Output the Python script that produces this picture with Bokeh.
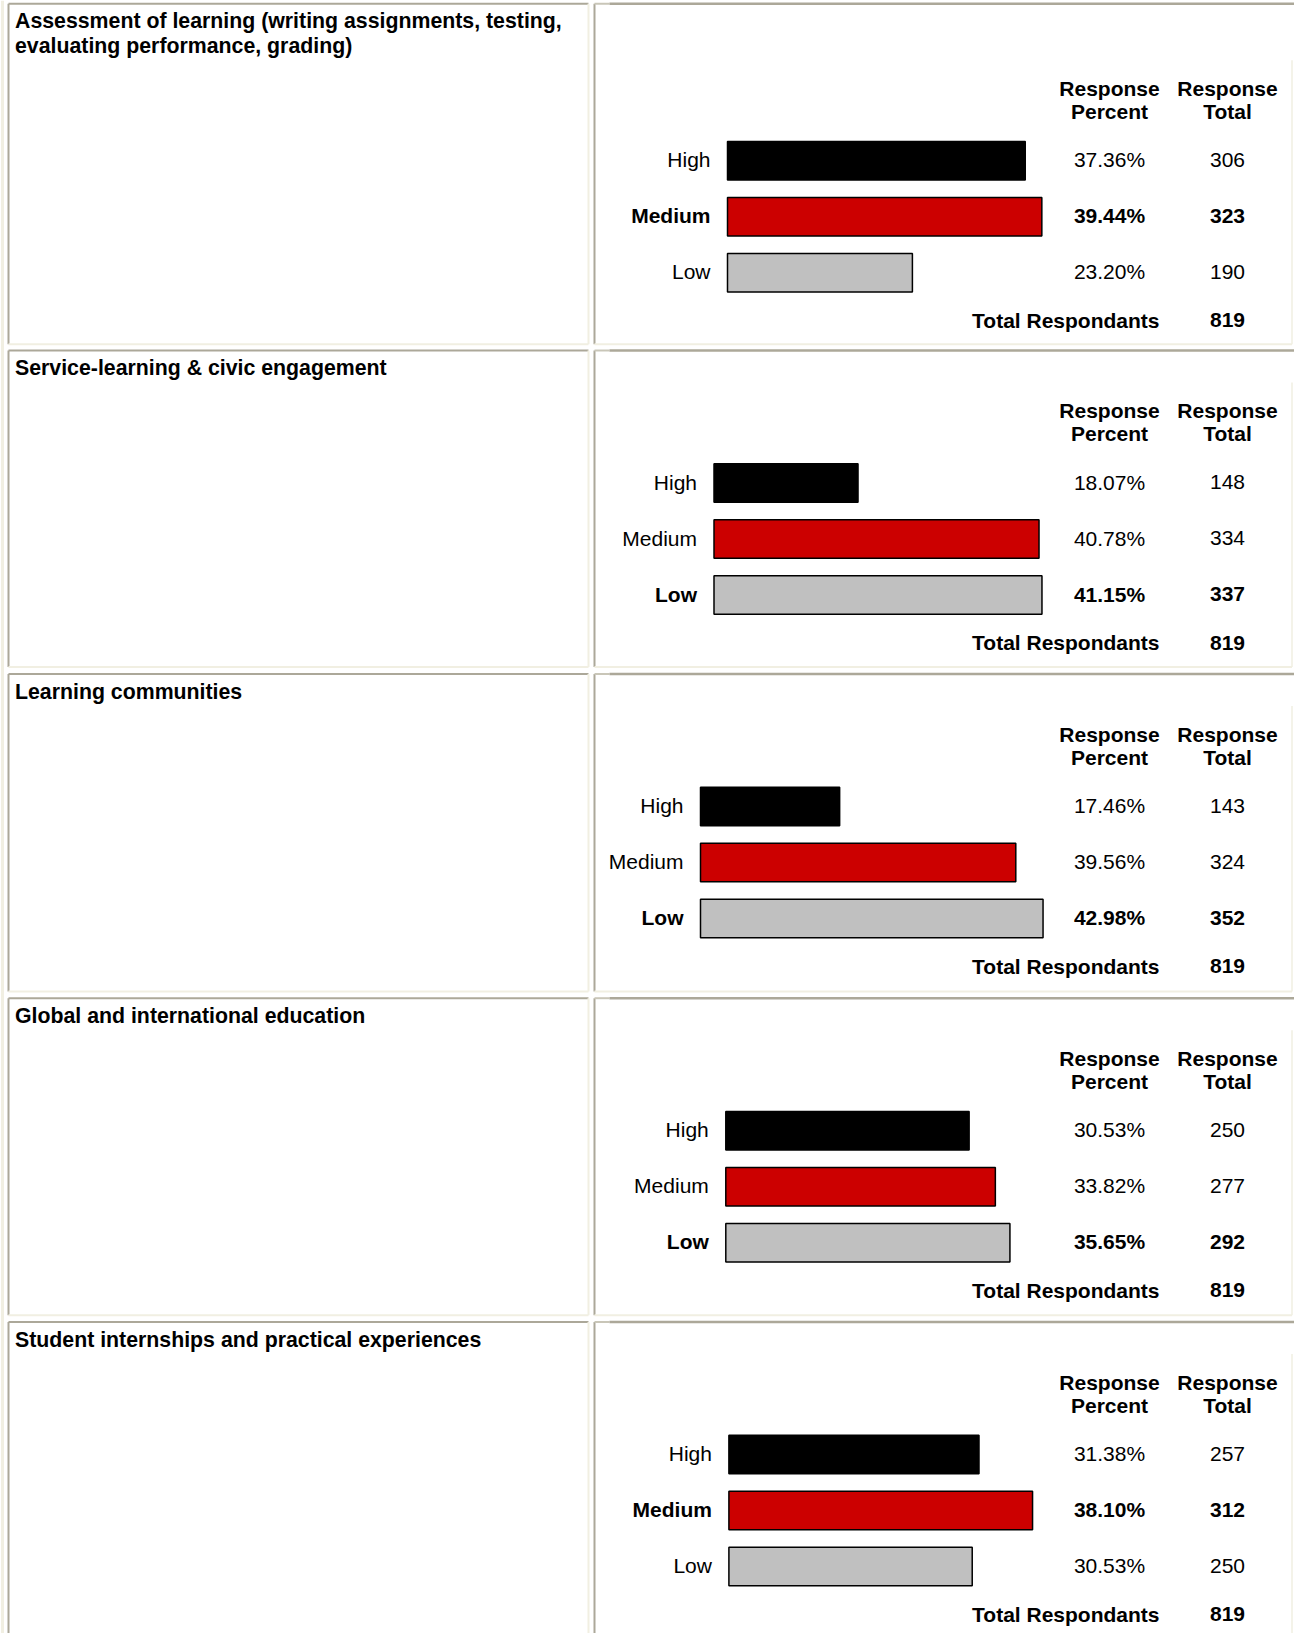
import numpy as np
from bokeh.plotting import figure
from bokeh.models import Range1d, ColumnDataSource
from bokeh.core.properties import value
from bokeh.embed import file_html
from bokeh.resources import INLINE

# ---------------- data ----------------
QUESTIONS = [
    "Assessment of learning (writing assignments, testing,\nevaluating performance, grading)",
    "Service-learning & civic engagement",
    "Learning communities",
    "Global and international education",
    "Student internships and practical experiences",
]
CATEGORIES = ["High", "Medium", "Low"]
HIGH_PCT = [37.36, 18.07, 17.46, 30.53, 31.38]
MEDIUM_PCT = [39.44, 40.78, 39.56, 33.82, 38.10]
LOW_PCT = [23.20, 41.15, 42.98, 35.65, 30.53]
HIGH_N = [306, 148, 143, 250, 257]
MEDIUM_N = [323, 334, 324, 277, 312]
LOW_N = [190, 337, 352, 292, 250]
TOTAL_RESPONDENTS = [819, 819, 819, 819, 819]
HEADER_LINE1 = ["Response", "Response"]
HEADER_LINE2 = ["Percent", "Total"]
TOTAL_LABEL = "Total Respondants"

# ---------------- styles / layout ----------------
BAR_COLORS = ["#000000", "#CC0000", "#C0C0C0"]
DARK = "#ACA899"
LIGHT = "#F1EFE2"
FONT = value("Liberation Sans")
FS = value("21px")
FS_TITLE = value("21.3px")

W, H = 1294, 1633
X0, Y0 = 0, 0
ROW_TOP = [3.3, 350.0, 673.5, 997.7, 1321.5]
ROW_BOTTOM = [343.8, 666.5, 991.0, 1314.8, 1640.0]
EXTRA = [24.5, 0, 0, 0, 0]
BAR_START = [727.0, 713.5, 700.0, 725.3, 728.4]
PX_PER_PCT = 7.97
X_PCT_COL = 1109.0
X_TOT_COL = 1227.0
X_TOTAL_LABEL_RIGHT = 1159.0
LEFT_X, LEFT_RIGHT, RIGHT_X, RIGHT_END, INNER_RIGHT = 8.0, 588.0, 594.0, 1294.0, 1291.5

p = figure(width=W, height=H, x_range=Range1d(X0, X0 + W), y_range=Range1d(Y0 + H, Y0),
           output_backend="svg", toolbar_location=None, x_axis_location=None,
           y_axis_location=None, min_border=0)
p.grid.visible = False
p.outline_line_color = None
p.background_fill_color = "white"
p.border_fill_color = "white"

# cell borders
sx0, sy0, sx1, sy1, scol, swid = [], [], [], [], [], []
def seg(a, b, c, d, col, w):
    sx0.append(a); sy0.append(b); sx1.append(c); sy1.append(d); scol.append(col); swid.append(w)

# outer table border (light, outset)
seg(2, 0, 2, H, LIGHT, 3)

extra_ranges = {}
for k in range(len(QUESTIONS)):
    T, B, e, s = ROW_TOP[k], ROW_BOTTOM[k], EXTRA[k], BAR_START[k]
    # left cell
    seg(LEFT_X, T, LEFT_X, B, DARK, 2)
    seg(LEFT_X, T, LEFT_RIGHT, T, DARK, 2)
    seg(LEFT_RIGHT, T, LEFT_RIGHT, B, LIGHT, 2)
    seg(LEFT_X, B, LEFT_RIGHT, B, LIGHT, 2)
    # right cell
    seg(RIGHT_X, T, RIGHT_X, B, DARK, 2)
    seg(RIGHT_X, T, 609, T, "#C9C6B8", 2)
    seg(609, T, RIGHT_END, T, DARK, 2.5)
    seg(RIGHT_X, B, INNER_RIGHT, B, LIGHT, 2)
    seg(INNER_RIGHT, T + 32 + e, INNER_RIGHT, B, LIGHT, 1.5)

    name = f"pct{k}"
    extra_ranges[name] = Range1d((X0 - s) / PX_PER_PCT, (X0 + W - s) / PX_PER_PCT)

    pcts = [HIGH_PCT[k], MEDIUM_PCT[k], LOW_PCT[k]]
    ns = [HIGH_N[k], MEDIUM_N[k], LOW_N[k]]
    best = int(np.argmax(pcts))
    ys = [T + e + 132.5 + i * 56 for i in range(3)]
    src = ColumnDataSource(dict(
        y=ys, ty=[v - 1 for v in ys], pct=pcts, color=BAR_COLORS, cat=CATEGORIES,
        pct_txt=[f"{v:.2f}%" for v in pcts], n_txt=[str(n) for n in ns],
        style=["bold" if i == best else "normal" for i in range(3)],
    ))
    p.hbar(y="y", left=0, right="pct", height=38.5, fill_color="color", line_color="black",
           line_width=1.5, source=src, x_range_name=name)
    common = dict(source=src, text_baseline="middle", text_font=FONT, text_font_size=FS,
                  text_font_style="style", text_color="black")
    p.text(x=s - 17, y="ty", text="cat", text_align="right", **common)
    p.text(x=X_PCT_COL, y="ty", text="pct_txt", text_align="center", **common)
    p.text(x=X_TOT_COL, y="ty", text="n_txt", text_align="center", **common)

    # headers
    hdr = dict(text_baseline="middle", text_font=FONT, text_font_size=FS,
               text_font_style="bold", text_color="black", text_align="center")
    p.text(x=[X_PCT_COL, X_TOT_COL], y=[T + e + 60] * 2, text=HEADER_LINE1, **hdr)
    p.text(x=[X_PCT_COL, X_TOT_COL], y=[T + e + 83] * 2, text=HEADER_LINE2, **hdr)
    # totals
    p.text(x=[X_TOTAL_LABEL_RIGHT], y=[T + e + 292], text=[TOTAL_LABEL],
           **{**hdr, "text_align": "right"})
    p.text(x=[X_TOT_COL], y=[T + e + 292], text=[str(TOTAL_RESPONDENTS[k])], **hdr)
    # question title
    p.text(x=[14.5], y=[T + 5.5], text=[QUESTIONS[k]], text_baseline="top",
           text_align="left", text_font=FONT, text_font_size=FS_TITLE, text_font_style="bold",
           text_color="black", text_line_height=1.02)

p.extra_x_ranges = extra_ranges
p.segment(x0=sx0, y0=sy0, x1=sx1, y1=sy1, line_color=scol, line_width=swid)

open("out.html", "w").write(file_html(p, INLINE))
